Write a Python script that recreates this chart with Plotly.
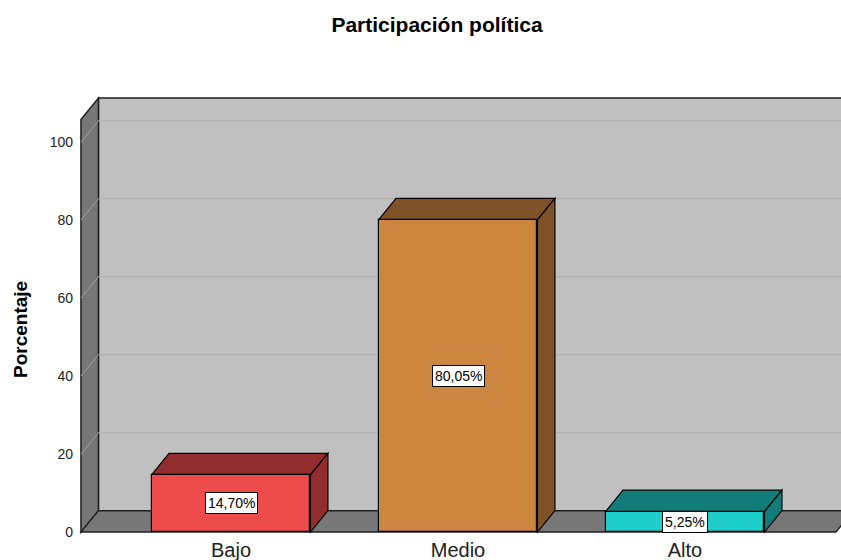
import plotly.graph_objects as go

# ---- data ----
categories = ["Bajo", "Medio", "Alto"]
percentages = [14.70, 80.05, 5.25]
front_colors = ["#EE4C4C", "#CC863F", "#1FCECB"]
dark_colors = ["#922D2D", "#7F5127", "#117C79"]
y_ticks = [0, 20, 40, 60, 80, 100]

# ---- geometry (styling constants) ----
W, H = 841, 560
ML, MR, MT, MB = 78, 0, 95, 24
PX_PER_X = 227.0
PX_PER_Y = 3.9
X0 = -0.674
X1 = X0 + (W - ML - MR) / PX_PER_X
Y0 = -1.0
Y1 = Y0 + (H - MT - MB) / PX_PER_Y
DX = 0.077          # depth offset in x units
DY = 5.5            # depth offset in y units
BAR_W = 0.70
XL = -0.661         # front-left edge of the side wall
XR = 2.665          # front-right edge of the floor
WALL_TOP = 105.8    # front-plane height of the walls

xs = list(range(len(categories)))

fig = go.Figure()
fig.add_trace(go.Bar(
    x=xs, y=percentages, width=BAR_W,
    marker=dict(color=front_colors, line=dict(color="black", width=1.2)),
    hoverinfo="skip", showlegend=False,
))

def path(pts):
    return "M " + " L ".join(f"{x},{y}" for x, y in pts) + " Z"

shapes = []
# back wall
shapes.append(dict(type="path", xref="x", yref="y", layer="below",
                   path=path([(XL + DX, DY), (XL + DX, WALL_TOP + DY), (X1 + 1, WALL_TOP + DY), (X1 + 1, DY)]),
                   fillcolor="#C0C0C0", line=dict(color="#202020", width=1.5)))
# side wall
shapes.append(dict(type="path", xref="x", yref="y", layer="below",
                   path=path([(XL, 0), (XL, WALL_TOP), (XL + DX, WALL_TOP + DY), (XL + DX, DY)]),
                   fillcolor="#777777", line=dict(color="#202020", width=1.5)))
# floor
shapes.append(dict(type="path", xref="x", yref="y", layer="below",
                   path=path([(XL, 0), (XL + DX, DY), (XR + DX, DY), (XR, 0)]),
                   fillcolor="#777777", line=dict(color="#202020", width=1.5)))
# gridlines
for v in y_ticks[1:]:
    shapes.append(dict(type="line", xref="x", yref="y", layer="below",
                       x0=XL + DX, x1=X1 + 1, y0=v + DY, y1=v + DY,
                       line=dict(color="#B0B0B0", width=1.2)))
    shapes.append(dict(type="line", xref="x", yref="y", layer="below",
                       x0=XL, x1=XL + DX, y0=v, y1=v + DY,
                       line=dict(color="#A0A0A0", width=1)))
# 3D faces of the bars
for x, v, dc in zip(xs, percentages, dark_colors):
    l, r = x - BAR_W / 2, x + BAR_W / 2
    shapes.append(dict(type="path", xref="x", yref="y", layer="below",
                       path=path([(l, v), (l + DX, v + DY), (r + DX, v + DY), (r, v)]),
                       fillcolor=dc, line=dict(color="black", width=1.2)))
    shapes.append(dict(type="path", xref="x", yref="y", layer="below",
                       path=path([(r, 0), (r, v), (r + DX, v + DY), (r + DX, DY)]),
                       fillcolor=dc, line=dict(color="black", width=1.2)))

annotations = []
for x, v in zip(xs, percentages):
    annotations.append(dict(x=x, y=v / 2, xref="x", yref="y",
                            text=f"{v:.2f}".replace(".", ",") + "%",
                            showarrow=False, bgcolor="white", bordercolor="black",
                            borderwidth=1, borderpad=2,
                            font=dict(size=14, color="black")))
annotations.append(dict(x=(20 - ML) / (W - ML - MR), y=(H - MB - 330) / (H - MT - MB),
                        xref="paper", yref="paper", xanchor="center", yanchor="middle",
                        text="<b>Porcentaje</b>", textangle=-90, showarrow=False,
                        font=dict(size=19, color="black")))

fig.update_layout(
    width=W, height=H,
    margin=dict(l=ML, r=MR, t=MT, b=MB, pad=0),
    template="none",
    paper_bgcolor="white", plot_bgcolor="white",
    font=dict(family="Arial, Liberation Sans, sans-serif", color="black"),
    title=dict(text="<b>Participación política</b>", xref="container", yref="container",
               x=437 / W, y=1 - 25 / H, xanchor="center", yanchor="middle",
               font=dict(size=21, color="black")),
    xaxis=dict(range=[X0, X1], tickvals=xs, ticktext=categories, showgrid=False,
               zeroline=False, showline=False, ticks="", automargin=False,
               tickfont=dict(size=20, color="#222")),
    yaxis=dict(range=[Y0, Y1], tickvals=y_ticks, showgrid=False, zeroline=False,
               showline=False, ticks="", automargin=False, ticklabelstandoff=4,
               tickfont=dict(size=14, color="#222")),
    shapes=shapes, annotations=annotations,
    bargap=0,
)

fig.write_html("out.html", config={"displayModeBar": False},
               post_script="document.body.style.margin='0';document.body.style.overflow='hidden';")
